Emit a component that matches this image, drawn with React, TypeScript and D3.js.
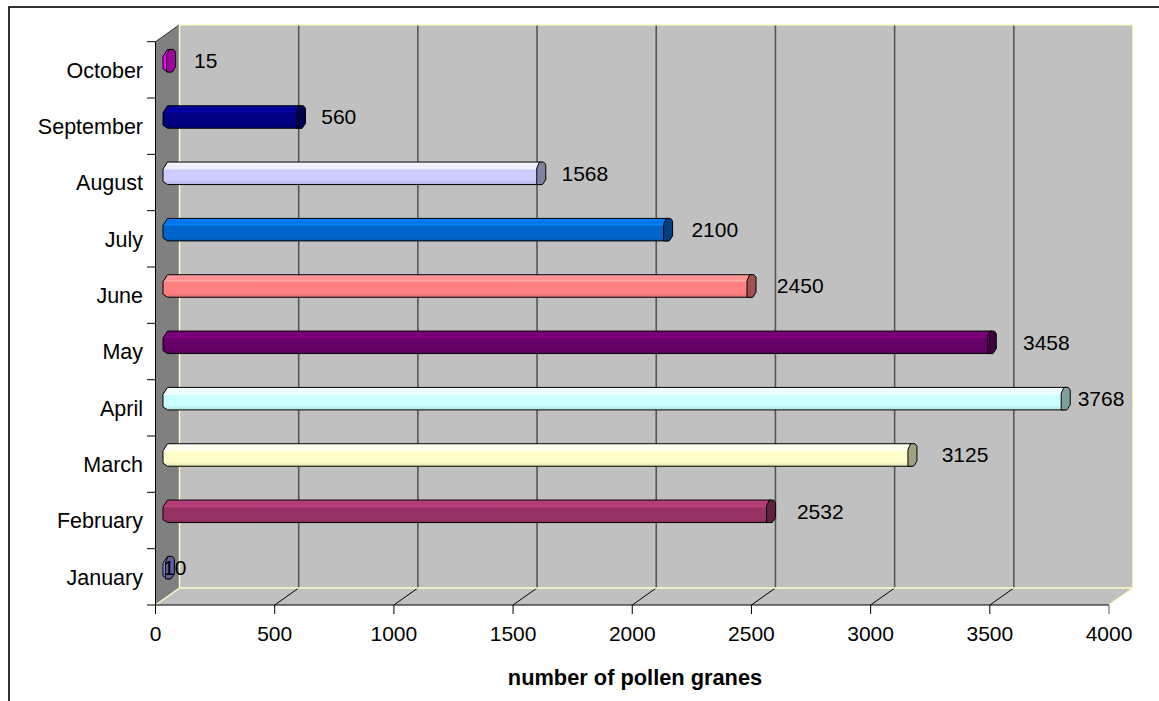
import React from "react";
import * as d3 from "d3";

const categories = ["January", "February", "March", "April", "May", "June", "July", "August", "September", "October"];
const values = [10, 2532, 3125, 3768, 3458, 2450, 2100, 1568, 560, 15];
const barColors = ["#9999FF", "#993366", "#FFFFCC", "#CCFFFF", "#660066", "#FF8080", "#0066CC", "#CCCCFF", "#000080", "#FF00FF"];
const xTicks = [0, 500, 1000, 1500, 2000, 2500, 3000, 3500, 4000];
const axisTitle = "number of pollen granes";

const W = 1159, H = 701;
const X0 = 155.5, X1 = 1109, Y0 = 41.7, Y1 = 605;
const DX = 24, DY = 17;
const FONT = "'Liberation Sans', Arial, sans-serif";
const WALL_EDGE = "#ffffc8";

export default function App() {
  const x = d3.scaleLinear().domain([0, 4000]).range([X0, X1]);
  const y = d3.scaleBand<string>().domain(categories).range([Y1, Y0]).padding(0);
  const bw = y.bandwidth();
  const barH = 22.5;
  const rx = 4.5;

  const boundaries = d3.range(categories.length + 1).map((i) => Y1 - i * bw);

  const bars = categories.map((c, i) => {
    const v = values[i];
    const color = d3.color(barColors[i])!;
    const cy = (y(c) as number) + bw / 2 - 9.2;
    const top = cy - barH / 2;
    const bot = cy + barH / 2;
    const xs = x(0) + DX / 2;
    const xe = x(v) + DX / 2;
    const body = `M${xs},${top} L${xe},${top} L${xe},${bot} L${xs},${bot} L${xs - rx},${bot - 3} L${xs - rx},${top + 7} Z`;
    const cap = `M${xe - rx + 2.7},${top} L${xe + rx - 2},${top} L${xe + rx},${top + 2.7} L${xe + rx},${bot - 5} L${xe + rx - 3.3},${bot} L${xe - rx},${bot} L${xe - rx},${top + 6} Z`;
    let lc = x(v) + DX / 2 + 34.5 + v * 0.0058;
    if (v < 12) lc = xs + 7.2;
    lc = Math.min(lc, 1101);
    return { c, v, color, cy, top, bot, xs, xe, body, cap, lc, i };
  });

  return (
    <svg width={W} height={H} style={{ position: "fixed", left: 0, top: 0, background: "#fff" }} fontFamily={FONT}>
      <defs>
        {bars.map((b) => (
          <linearGradient key={b.i} id={`g${b.i}`} x1="0" y1="0" x2="0" y2="1">
            <stop offset="0" stopColor={b.color.brighter(0.6).formatHex()} />
            <stop offset="0.22" stopColor={b.color.brighter(0.35).formatHex()} />
            <stop offset="0.26" stopColor={b.color.brighter(0.9).formatHex()} />
            <stop offset="0.3" stopColor={b.color.brighter(0.35).formatHex()} />
            <stop offset="0.36" stopColor={b.color.formatHex()} />
            <stop offset="0.8" stopColor={b.color.formatHex()} />
            <stop offset="1" stopColor={b.color.darker(0.35).formatHex()} />
          </linearGradient>
        ))}
      </defs>
      {/* frame */}
      <rect x={9} y={7} width={1180} height={720} fill="#fff" stroke="#000" strokeWidth={1.6} />
      {/* back wall */}
      <rect x={X0 + DX} y={Y0 - DY} width={X1 - X0} height={Y1 - Y0} fill="#c0c0c0" />
      {/* gridlines */}
      {xTicks.slice(1, -1).map((t) => (
        <line key={t} x1={x(t) + DX} x2={x(t) + DX} y1={Y0 - DY} y2={Y1 - DY} stroke="#555" strokeWidth={1.6} />
      ))}
      {/* side wall */}
      <path d={`M${X0},${Y0} L${X0 + DX},${Y0 - DY} L${X0 + DX},${Y1 - DY} L${X0},${Y1} Z`} fill="#808080" />
      <line x1={X0} y1={Y0} x2={X0 + DX} y2={Y0 - DY} stroke="#333" strokeWidth={1} />
      {/* floor */}
      <path d={`M${X0},${Y1} L${X1},${Y1} L${X1 + DX},${Y1 - DY} L${X0 + DX},${Y1 - DY} Z`} fill="#c0c0c0" />
      {xTicks.slice(1, -1).map((t) => (
        <line key={t} x1={x(t)} y1={Y1} x2={x(t) + DX} y2={Y1 - DY} stroke="#000" strokeWidth={1} />
      ))}
      {/* wall edges */}
      <g stroke={WALL_EDGE} strokeWidth={1.4} fill="none">
        <line x1={X0 + DX} y1={Y0 - DY} x2={X0 + DX} y2={Y1 - DY} />
        <line x1={X0 + DX} y1={Y0 - DY} x2={X1 + DX} y2={Y0 - DY} />
        <line x1={X1 + DX} y1={Y0 - DY} x2={X1 + DX} y2={Y1 - DY} />
        <line x1={X0 + DX} y1={Y1 - DY} x2={X1 + DX} y2={Y1 - DY} />
        <line x1={X0} y1={Y1} x2={X0 + DX} y2={Y1 - DY} />
        <line x1={X1} y1={Y1} x2={X1 + DX} y2={Y1 - DY} />
      </g>
      {/* bars */}
      {bars.map((b) => (
        <g key={b.i}>
          <path d={b.body} fill={`url(#g${b.i})`} stroke="#000" strokeWidth={1} strokeLinejoin="round" />
          <path d={b.cap} fill={b.color.darker(1.3).formatHex()} stroke="#000" strokeWidth={1} strokeLinejoin="round" />
        </g>
      ))}
      {/* value labels */}
      {bars.map((b) => (
        <text key={b.i} x={b.lc} y={b.cy + 7.5} textAnchor="middle" fontSize={21} fill="#000">
          {b.v}
        </text>
      ))}
      {/* axes */}
      <line x1={X0} y1={Y0} x2={X0} y2={Y1} stroke="#000" strokeWidth={1} />
      {boundaries.map((by, i) => (
        <line key={i} x1={147} x2={X0} y1={by} y2={by} stroke="#000" strokeWidth={1} />
      ))}
      <line x1={X0} y1={Y1} x2={X1} y2={Y1} stroke="#000" strokeWidth={1} />
      {xTicks.map((t) => (
        <line key={t} x1={x(t)} x2={x(t)} y1={Y1} y2={Y1 + 9} stroke={t === 4000 ? "#555" : "#000"} strokeWidth={1} />
      ))}
      {categories.map((c) => (
        <text key={c} x={143} y={(y(c) as number) + bw / 2 + 7.7} textAnchor="end" fontSize={21.5} fill="#000">
          {c}
        </text>
      ))}
      {xTicks.map((t) => (
        <text key={t} x={x(t)} y={640.5} textAnchor="middle" fontSize={21} fill="#000">
          {t}
        </text>
      ))}
      <text x={635} y={685} textAnchor="middle" fontSize={21.8} fontWeight="bold" fill="#000">
        {axisTitle}
      </text>
    </svg>
  );
}
